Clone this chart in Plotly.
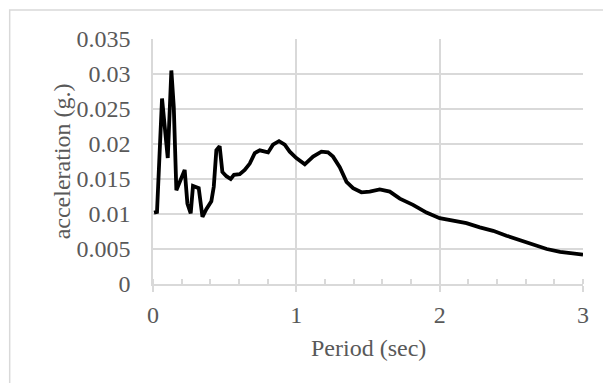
import plotly.graph_objects as go

period = [0.007, 0.028, 0.063, 0.103, 0.128, 0.145, 0.163, 0.186, 0.221, 0.240, 0.263,
          0.279, 0.319, 0.345, 0.372, 0.407, 0.424, 0.442, 0.465, 0.484, 0.512, 0.542,
          0.565, 0.605, 0.640, 0.675, 0.710, 0.745, 0.803, 0.837, 0.879, 0.919, 0.954,
          1.000, 1.059, 1.117, 1.175, 1.221, 1.256, 1.303, 1.350, 1.396, 1.454, 1.512,
          1.582, 1.652, 1.722, 1.814, 1.908, 2.000, 2.093, 2.187, 2.280, 2.373, 2.466,
          2.560, 2.653, 2.747, 2.840, 2.930, 3.000]
accel = [0.0102, 0.0103, 0.0265, 0.0180, 0.0305, 0.0253, 0.0134, 0.0146, 0.0163, 0.0115, 0.0101,
         0.0140, 0.0137, 0.0096, 0.0107, 0.0118, 0.0139, 0.0191, 0.0197, 0.0160, 0.0154, 0.0150,
         0.0156, 0.0157, 0.0163, 0.0172, 0.0187, 0.0191, 0.0188, 0.0199, 0.0204, 0.0199, 0.0189,
         0.0180, 0.0171, 0.0182, 0.0189, 0.0188, 0.0182, 0.0167, 0.0146, 0.0137, 0.0131, 0.0132,
         0.0135, 0.0132, 0.0122, 0.0113, 0.0102, 0.0094, 0.0090, 0.0087, 0.0081, 0.0076, 0.0069,
         0.0063, 0.0057, 0.0050, 0.0046, 0.0043, 0.0042]

x_ticks = [0, 1, 2, 3]
y_ticks = [0, 0.005, 0.01, 0.015, 0.02, 0.025, 0.03, 0.035]
y_tick_text = ["0", "0.005", "0.01", "0.015", "0.02", "0.025", "0.03", "0.035"]
x_title = "Period (sec)"
y_title = "acceleration (g.)"

FONT = "Liberation Serif"
GRAY = "#595959"
GRID = "#d9d9d9"

fig = go.Figure()
fig.add_trace(go.Scatter(x=period, y=accel, mode="lines",
                         line=dict(color="black", width=3.8), showlegend=False))

fig.update_layout(
    width=603, height=375,
    margin=dict(l=145, r=28, t=31, b=99),
    paper_bgcolor="white", plot_bgcolor="white",
    font=dict(family=FONT, color=GRAY, size=24),
    xaxis=dict(range=[0, 3], tickvals=x_ticks, ticktext=[str(v) for v in x_ticks],
               showgrid=True, gridcolor=GRID, gridwidth=1.5,
               showline=True, linecolor=GRID, linewidth=1.5,
               ticks="outside", ticklen=6, tickcolor=GRID, tickwidth=1.5,
               minor=dict(dtick=0.2, ticks="inside", ticklen=5, tickcolor=GRID, showgrid=False),
               zeroline=False, ticklabelstandoff=2, automargin=False),
    yaxis=dict(range=[0, 0.035], tickvals=y_ticks, ticktext=y_tick_text,
               showgrid=True, gridcolor=GRID, gridwidth=1.5,
               showline=True, linecolor=GRID, linewidth=1.5,
               ticks="", zeroline=False, ticklabelstandoff=16, automargin=False),
    shapes=[dict(type="rect", xref="paper", yref="paper",
                 x0=-0.3333, x1=1.1, y0=-0.5, y1=1.118,
                 line=dict(color=GRID, width=1.5), fillcolor="rgba(0,0,0,0)", layer="below")],
    annotations=[
        dict(text=x_title, xref="paper", yref="paper", x=0.5, y=-0.263,
             xanchor="center", yanchor="middle", showarrow=False,
             font=dict(size=24, color=GRAY)),
        dict(text=y_title, xref="paper", yref="paper", x=-0.212, y=0.5, textangle=-90,
             xanchor="center", yanchor="middle", showarrow=False,
             font=dict(size=24, color=GRAY)),
    ],
)

fig.write_html("out.html")
